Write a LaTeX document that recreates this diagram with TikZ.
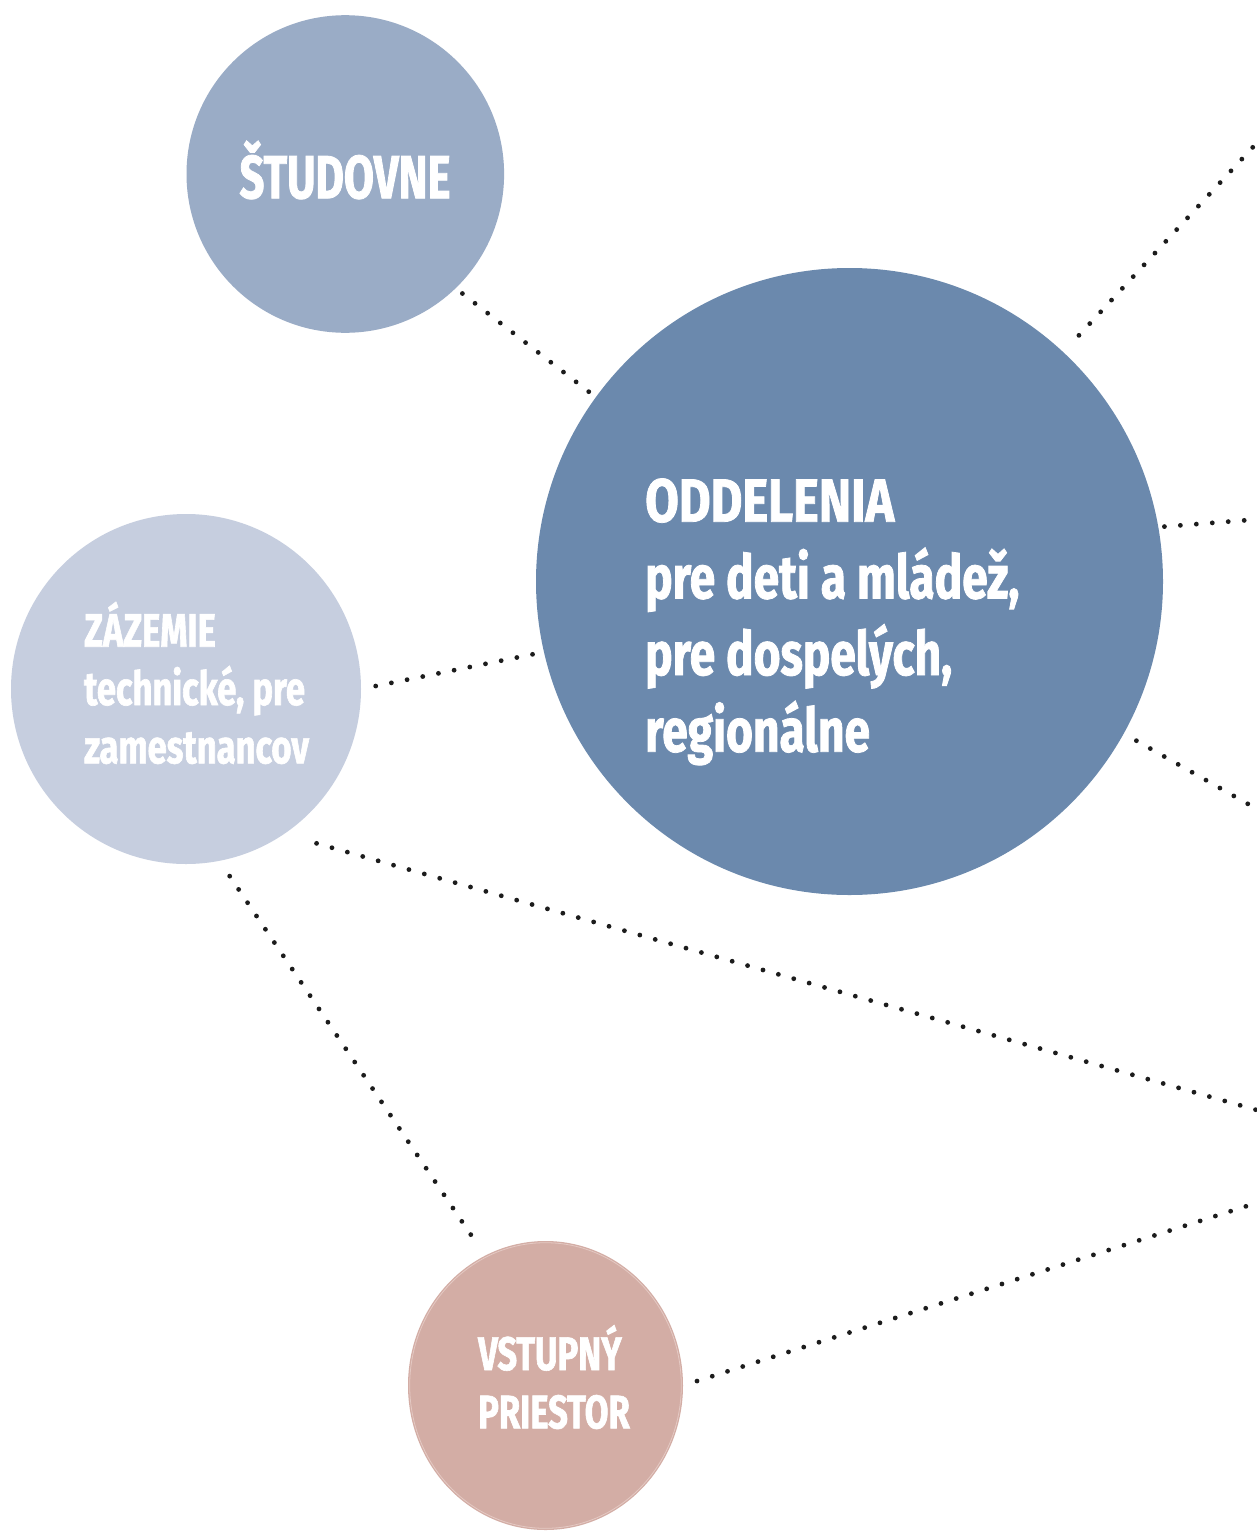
\documentclass[tikz,border=0pt]{standalone}
\usepackage{fontspec}
\newfontfamily\cond{Fira Sans}[FakeStretch=0.755, FakeBold=1.3]
\newfontfamily\condwide{Fira Sans}[FakeStretch=0.80, FakeBold=1.3]
\newfontfamily\condnarrow{Fira Sans}[FakeStretch=0.715, FakeBold=1.3]
\newfontfamily\condsmall{Fira Sans}[FakeStretch=0.735, FakeBold=1.3]
\usetikzlibrary{shapes.geometric}
\definecolor{cS}{HTML}{9AACC6}
\definecolor{cO}{HTML}{6B89AD}
\definecolor{cZ}{HTML}{C6CEDF}
\definecolor{cV}{HTML}{D3ADA5}
\definecolor{cVline}{HTML}{E4C9C3}
\definecolor{dotc}{HTML}{1C1C1C}
\begin{document}
\begin{tikzpicture}[x=1pt,y=-1pt,
  bubble/.style={circle, inner sep=0pt, outer sep=0pt},
  dotline/.style={draw=dotc, line width=4.8pt, line cap=round, dash pattern=on 0pt off 16pt},
  bigtxt/.style={text=white, font=\cond\bfseries\fontsize{61}{76}\selectfont, anchor=base west, inner sep=0pt},
  smalltxt/.style={text=white, font=\condsmall\bfseries\fontsize{47}{58}\selectfont, anchor=base west, inner sep=0pt}]
\clip (0,0) rectangle (1257,1531);
\fill[white] (0,0) rectangle (1257,1531);
% bubbles
\node[bubble, fill=cS, minimum size=317.6pt] (S) at (345.3,174) {};
\node[bubble, fill=cO, minimum size=627pt] (O) at (849.5,581.5) {};
\node[bubble, fill=cZ, minimum size=350pt] (Z) at (186,689) {};
\node[ellipse, inner sep=0pt, outer sep=0pt, fill=cV, minimum width=275pt, minimum height=289pt] (V) at (545.5,1385.5) {};
\draw[cVline, line width=0.8pt] (V.center) ellipse [x radius=135.8, y radius=142.8];
% free ends at the right edge
\coordinate (e1) at (1262,137.3);
\coordinate (e2) at (1262,519);
\coordinate (e3) at (1262,811.9);
\coordinate (e4) at (1262,1111.5);
\coordinate (e5) at (1262,1201.2);
% connectors
\draw[dotline, shorten <=8.6pt, shorten >=4.2pt] (S.314.5) -- (O.144.2);
\draw[dotline, shorten <=23pt] (O.47.6) -- (e1);
\draw[dotline, shorten <=6.2pt] (O.10.4) -- (e2);
\draw[dotline, shorten <=14.6pt] (O.331.9) -- (e3);
\draw[dotline, shorten <=15pt, shorten >=4.6pt] (Z.0) -- (O.193.5);
\draw[dotline, shorten <=34pt] (Z.304.0) -- (e4);
\draw[dotline, shorten <=18.5pt, shorten >=20.4pt] (Z.281.9) -- (V.115.8);
\draw[dotline, shorten <=14.7pt] (V.0) -- (e5);
% texts
\node[bigtxt, anchor=base] (s1) at (345,198.3) {\condnarrow\bfseries ŠTUDOVNE};
\node[bigtxt] (o1) at (645,521.7) {\condwide\bfseries ODDELENIA};
\node[bigtxt] (o2) at (645,598.4) {pre deti a mládež,};
\node[bigtxt] (o3) at (645,675) {pre dospelých,};
\node[bigtxt] (o4) at (645,751.7) {regionálne};
\node[smalltxt] (z1) at (84,646.7) {ZÁZEMIE};
\node[smalltxt] (z2) at (84,705) {technické, pre};
\node[smalltxt] (z3) at (84,763.3) {zamestnancov};
\node[smalltxt] (v1) at (478,1370) {VSTUPNÝ};
\node[smalltxt] (v2) at (478,1428.3) {PRIESTOR};
\end{tikzpicture}
\end{document}
